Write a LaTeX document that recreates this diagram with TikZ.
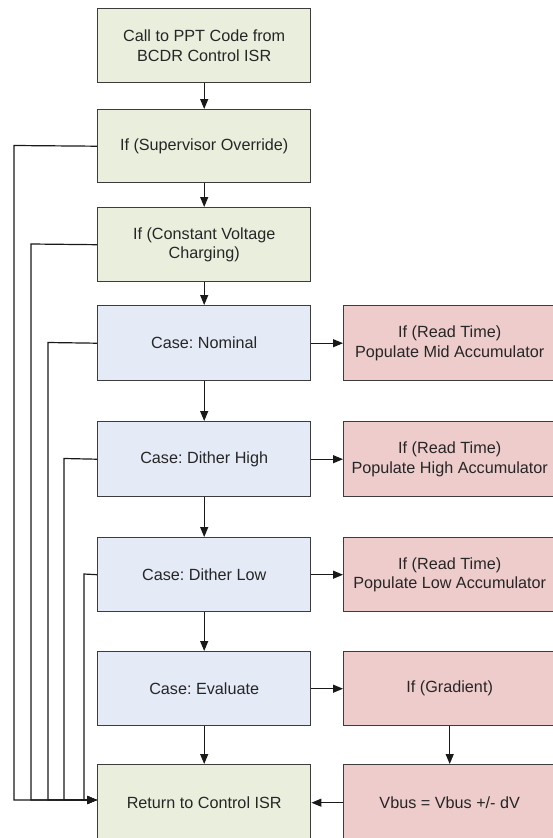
\documentclass[tikz,border=0pt]{standalone}
\usepackage{fontspec}
\setmainfont{Liberation Sans}
\usetikzlibrary{arrows.meta}
\definecolor{gfill}{HTML}{EAEFDD}
\definecolor{bfill}{HTML}{E4EAF6}
\definecolor{pfill}{HTML}{EECCCB}
\definecolor{edge}{HTML}{3C3C3C}
\frenchspacing
\begin{document}
\begin{tikzpicture}[x=1pt,y=-1pt,
  box/.style={draw=edge,line width=1.4pt,anchor=north west,inner sep=0pt,align=center,
    font=\fontsize{16.2}{19.5}\selectfont,text=black!85},
  lbox/.style={box,minimum width=213pt,minimum height=74pt},
  rbox/.style={box,minimum width=212pt,minimum height=74pt},
  green/.style={fill=gfill},
  blue/.style={fill=bfill},
  pink/.style={fill=pfill},
  conn/.style={draw=black!90,line width=1.2pt},
  arr/.style={conn,-{Triangle[length=10pt,width=8pt]}}]
\useasboundingbox (0,0) rectangle (552,838);
% left column
\node[lbox,green] (call) at (97,8) {Call to PPT Code from\\BCDR Control ISR};
\node[lbox,green,minimum height=73pt] (sup) at (97,109) {If (Supervisor Override)};
\node[lbox,green] (cv) at (97,207) {If (Constant Voltage\\Charging)};
\node[lbox,blue,minimum height=75pt] (nom) at (97,305) {Case: Nominal};
\node[lbox,blue,minimum height=75pt] (dh) at (97,421) {Case: Dither High};
\node[lbox,blue] (dl) at (97,537) {Case: Dither Low};
\node[lbox,blue] (ev) at (97,651) {Case: Evaluate};
\node[lbox,green,minimum height=76pt] (ret) at (97,764) {Return to Control ISR};
% right column
\node[rbox,pink,minimum height=75pt] (mid) at (343,305) {If (Read Time)\\Populate Mid Accumulator};
\node[rbox,pink,minimum height=75pt] (high) at (343,421) {If (Read Time)\\Populate High Accumulator};
\node[rbox,pink] (low) at (343,537) {If (Read Time)\\Populate Low Accumulator};
\node[rbox,pink] (grad) at (343,651) {If (Gradient)};
\node[rbox,pink,minimum height=76pt] (vbus) at (343,764) {Vbus = Vbus +/- dV};
% main vertical flow
\draw[arr] (call) -- (sup);
\draw[arr] (sup) -- (cv);
\draw[arr] (cv) -- (nom);
\draw[arr] (nom) -- (dh);
\draw[arr] (dh) -- (dl);
\draw[arr] (dl) -- (ev);
\draw[arr] (ev.south) -- (ev.south |- ret.north);
% right arrows
\draw[arr] (nom.east) -- (mid.west);
\draw[arr] (dh.east) -- (high.west);
\draw[arr] (dl.east) -- (low.west);
\draw[arr] (ev.east) -- (grad.west);
\draw[arr] (grad.south) -- (vbus.north);
\draw[arr] (vbus.west) -- (ret.east |- vbus.west);
% bypass lines
\coordinate (rin) at (97,800);
\draw[arr] (sup.west) -- (14,145.5) |- (rin);
\draw[arr] (cv.west) -- (31,244) |- (rin);
\draw[arr] (nom.west) -- (48,342.5) |- (rin);
\draw[arr] (dh.west) -- (64,458.5) |- (rin);
\draw[arr] (dl.west) -- (84,574) |- (rin);
\end{tikzpicture}
\end{document}
